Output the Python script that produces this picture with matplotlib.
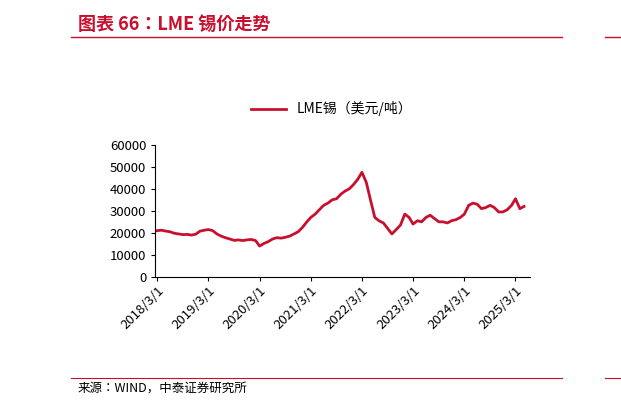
import matplotlib
matplotlib.use("Agg")
import matplotlib.pyplot as plt
import pandas as pd

plt.rcParams["font.family"] = ["Noto Sans CJK JP", "Noto Sans CJK SC", "DejaVu Sans"]

months = pd.date_range("2018-03-01", "2025-05-01", freq="MS")
tin = [
    21000, 21200, 20800, 20500, 19800, 19500, 19200, 19300, 19000, 19400,          # 2018
    20800, 21200, 21500, 21000, 19500, 18500, 17800, 17200, 16600, 16800, 16500, 16800,  # 2019
    17000, 16500, 14000, 15200, 16000, 17200, 17800, 17600, 18000, 18500, 19500, 20500,  # 2020
    22500, 25000, 27000, 28500, 30500, 32500, 33500, 35000, 35500, 37500, 39000, 40000,  # 2021
    42000, 44500, 47500, 43000, 35000, 27000, 25500, 24500, 22000, 19500, 21500, 23500,  # 2022
    28500, 27000, 24000, 25500, 25000, 27000, 28000, 26500, 25000, 25000, 24500, 25500,  # 2023
    26000, 27000, 28500, 32500, 33500, 33000, 31000, 31500, 32500, 31500, 29500, 29500,  # 2024
    30500, 32500, 35500, 31000, 32000,                                              # 2025
]
tick_dates = pd.date_range("2018-03-01", "2025-03-01", freq="12MS")
tick_labels = [f"{d.year}/3/1" for d in tick_dates]

red = "#C8102E"
fig = plt.figure(figsize=(6.21, 4.09), dpi=100)

fig.text(0.125, 0.94, "图表 66：LME 锡价走势", color=red, fontsize=13,
         fontweight="bold", style="italic", va="center")
fig.add_artist(plt.Line2D([0.115, 0.905], [0.91, 0.91], color=red, lw=1))
fig.add_artist(plt.Line2D([0.975, 1.0], [0.91, 0.91], color=red, lw=1))
fig.add_artist(plt.Line2D([0.115, 0.905], [0.075, 0.075], color=red, lw=0.8))
fig.add_artist(plt.Line2D([0.975, 1.0], [0.075, 0.075], color=red, lw=0.8))
fig.text(0.125, 0.05, "来源：WIND，中泰证券研究所", fontsize=9, va="center")

ax = fig.add_axes([0.25, 0.323, 0.604, 0.323])
ax.plot(months, tin, color=red, lw=2, label="LME锡（美元/吨）")
ax.set_ylim(0, 60000)
ax.set_yticks(range(0, 60001, 10000))
ax.set_xlim(pd.Timestamp("2018-02-15"), pd.Timestamp("2025-06-15"))
ax.set_xticks(tick_dates)
ax.set_xticklabels(tick_labels, rotation=45, ha="right", rotation_mode="anchor")
ax.tick_params(labelsize=9.5, length=3)
ax.xaxis.set_tick_params(pad=2)
for s in ["top", "right"]:
    ax.spines[s].set_visible(False)
ax.legend(loc="lower center", bbox_to_anchor=(0.47, 1.12), frameon=False,
          fontsize=10, handlelength=2.5)

fig.savefig("out.png", dpi=100)
